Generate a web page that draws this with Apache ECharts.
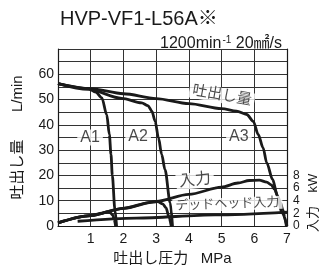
<!DOCTYPE html>
<html><head><meta charset="utf-8">
<script src="https://cdn.jsdelivr.net/npm/echarts@6/dist/echarts.min.js"></script>
<style>html,body{margin:0;padding:0;background:#fff}#c{width:322px;height:265px}</style>
</head><body><div id="c"></div>
<script>
// ---- data ----
const pressureTicks = [1, 2, 3, 4, 5, 6, 7];
const flowTickLabels = [0, 10, 20, 30, 40, 50, 60];
const powerTickLabels = [0, 2, 4, 6, 8];

// flow curves (MPa, L/min)
const mainPressure = [0, 1, 2, 3, 4, 5, 5.46, 5.77, 5.97, 6.12, 6.27, 6.38, 6.56, 6.71, 6.84, 7.0];
const mainFlow     = [56.3, 54.3, 52.3, 50.4, 48.4, 46.4, 45.4, 44.1, 41.4, 36.2, 30.9, 25.0, 18.4, 11.8, 5.2, 0];
const a1Pressure = [0, 0.93, 1.15, 1.34, 1.49, 1.57, 1.62, 1.66, 1.74, 1.79];
const a1Flow     = [56.3, 54.3, 53.0, 50.7, 44.0, 36.2, 28.3, 20.0, 6.5, 0];
const a2Pressure = [0, 0.93, 1.95, 2.56, 2.75, 2.87, 2.97, 3.07, 3.17, 3.27, 3.43, 3.5];
const a2Flow     = [56.3, 54.0, 50.5, 48.7, 47.6, 45.4, 41.4, 34.9, 28.3, 22.3, 9.2, 0];

// power curves (MPa, kW)
const inPressure = [0, 1, 2, 3, 4, 5, 5.5, 5.85, 6.15, 6.38, 6.52, 6.62, 6.72, 6.8, 6.87, 6.93, 6.98];
const inPower    = [0.5, 1.65, 2.8, 3.9, 5.0, 6.15, 6.8, 7.2, 7.25, 6.95, 6.5, 5.8, 4.7, 3.7, 2.6, 1.4, 0];
const a1PowPressure = [0, 1, 1.35, 1.5, 1.6, 1.67, 1.72, 1.76];
const a1Power       = [0.5, 1.65, 2.05, 2.25, 2.1, 1.75, 1.0, 0];
const a2PowPressure = [0, 1, 2, 2.8, 3.05, 3.2, 3.3, 3.4, 3.46];
const a2Power       = [0.5, 1.65, 2.8, 3.7, 3.85, 3.5, 2.9, 1.3, 0];
const deadPressure = [0.6, 2.4, 4.8, 7.0];
const deadPower    = [0.75, 1.25, 1.75, 2.2];

const lineTexts = ['A1', 'A2', 'A3', '吐出し量', '入力', 'デッドヘッド入力'];
// ---------------------------------------

const zip = (a, b) => a.map((v, i) => [v, b[i]]);
const FF = "'Liberation Sans','Noto Sans CJK JP',sans-serif";
const INK = '#1a1a1a';

const lineStyle = { color: INK, width: 2.8 };
function curve(px, py, axis) {
  return { type: 'line', data: zip(px, py), yAxisIndex: axis, smooth: 0.3, smoothMonotone: 'x',
           symbol: 'none', lineStyle: lineStyle, silent: true, z: 3 };
}

const chart = echarts.init(document.getElementById('c'), null, { renderer: 'canvas' });
const lbl = (txt, size, rot) => ({ show: true, formatter: txt, fontSize: size, rotate: rot || 0,
  color: INK, fontFamily: FF, backgroundColor: '#fff', padding: [0, 3], position: 'inside' });

chart.setOption({
  animation: false,
  textStyle: { fontFamily: FF },
  title: [
    { text: 'HVP-VF1-L56A※', left: 55, top: 4,
      textStyle: { fontSize: 20, fontWeight: 'normal', color: INK, fontFamily: FF } },
    { text: '{a|1200min}{s|-1}{a| 20㎟/s}', right: 35, top: 30,
      textStyle: { fontWeight: 'normal', rich: {
        a: { fontSize: 16, fontWeight: 'normal', color: INK, fontFamily: FF, lineHeight: 17 },
        s: { fontSize: 10, fontWeight: 'normal', color: INK, fontFamily: FF, verticalAlign: 'top', lineHeight: 17, padding: [0, 0, 0, 1] } } } }
  ],
  grid: { left: 58, top: 49, width: 229, height: 177, outerBoundsMode: 'none', containLabel: false },
  xAxis: {
    type: 'value', min: 0, max: 7, interval: 1,
    name: '吐出し圧力   MPa', nameLocation: 'middle', nameGap: 21,
    nameTextStyle: { fontSize: 15, color: INK, fontFamily: FF },
    axisLine: { show: true, lineStyle: { color: INK, width: 1.2 } },
    axisTick: { show: false },
    axisLabel: { fontSize: 14, color: INK, margin: 6,
      formatter: v => pressureTicks.includes(v) ? String(v) : '' },
    splitLine: { show: true, lineStyle: { color: '#333', width: 1 } }
  },
  yAxis: [
    { type: 'value', min: 0, max: 70, interval: 5,
      name: '吐出し量　   L/min', nameLocation: 'middle', nameGap: 33,
      nameTextStyle: { fontSize: 15, color: INK, fontFamily: FF },
      axisLine: { show: true, lineStyle: { color: INK, width: 1.2 } },
      axisTick: { show: false },
      axisLabel: { fontSize: 14, color: INK, margin: 4,
        formatter: v => flowTickLabels.includes(v) ? String(v) : '' },
      splitLine: { show: true, lineStyle: { color: '#333', width: 1 } } },
    { type: 'value', min: 0, max: 28, interval: 2, position: 'right',
      axisLine: { show: true, lineStyle: { color: INK, width: 1.2 } },
      axisTick: { show: false },
      axisLabel: { fontSize: 12, color: INK, margin: 6,
        formatter: v => powerTickLabels.includes(v) ? String(v) : '' },
      splitLine: { show: false } }
  ],
  graphic: [
    { type: 'text', x: 313, y: 183, rotation: Math.PI / 2,
      style: { text: 'kW', fontSize: 13, fill: INK, fontFamily: FF, align: 'center', verticalAlign: 'middle' } },
    { type: 'text', x: 313, y: 219, rotation: Math.PI / 2,
      style: { text: '入力', fontSize: 13, fill: INK, fontFamily: FF, align: 'center', verticalAlign: 'middle' } }
  ],
  series: [
    curve(mainPressure, mainFlow, 0),
    curve(a1Pressure, a1Flow, 0),
    curve(a2Pressure, a2Flow, 0),
    curve(inPressure, inPower, 1),
    curve(a1PowPressure, a1Power, 1),
    curve(a2PowPressure, a2Power, 1),
    curve(deadPressure, deadPower, 1),
    { type: 'scatter', yAxisIndex: 0, symbolSize: 1, itemStyle: { color: 'rgba(0,0,0,0)' }, z: 5, silent: true,
      data: [
        { value: [0.98, 35], label: lbl(lineTexts[0], 16) },
        { value: [2.45, 35.3], label: lbl(lineTexts[1], 16) },
        { value: [5.53, 35.3], label: lbl(lineTexts[2], 16) },
        { value: [5.01, 51.6], label: lbl(lineTexts[3], 15, -10) },
        { value: [4.19, 18], label: lbl(lineTexts[4], 16, 6) },
        { value: [5.18, 8.6], label: lbl(lineTexts[5], 13, 2) }
      ] }
  ]
});
</script></body></html>
